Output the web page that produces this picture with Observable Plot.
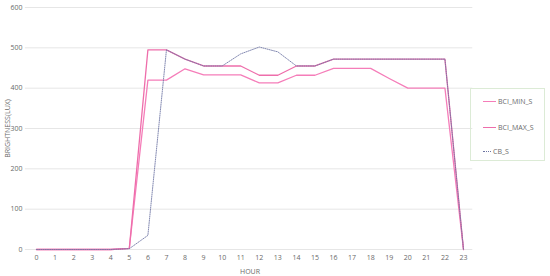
<!DOCTYPE html>
<html>
<head>
<meta charset="utf-8">
<script src="https://cdn.jsdelivr.net/npm/d3@7"></script>
<script src="https://cdn.jsdelivr.net/npm/@observablehq/plot@0.6"></script>
<style>
  body { margin: 0; background: #fff; }
  #wrap { position: relative; width: 550px; height: 276px; font-family: "Open Sans", Lato, sans-serif; }
  #legend { position: absolute; left: 470px; top: 88px; width: 75px; height: 73px; border: 1px solid #dcebd6; box-sizing: border-box; }
  .item { position: absolute; left: 12px; font-size: 7px; color: #6a6a6a; display: flex; align-items: center; white-space: nowrap; }
  .swatch { width: 13px; height: 0; margin-right: 2px; }
</style>
</head>
<body>
<div id="wrap"></div>
<script>
const hours = [0,1,2,3,4,5,6,7,8,9,10,11,12,13,14,15,16,17,18,19,20,21,22,23];
const BCI_MIN_S = [0,0,0,0,0,3,420,420,448,433,433,433,413,413,432,432,449,449,449,424,400,400,400,0];
const BCI_MAX_S = [0,0,0,0,0,3,495,495,472,455,455,455,432,432,455,455,472,472,472,472,472,472,472,0];
const CB_S      = [0,0,0,0,0,2,35,495,472,455,455,485,502,490,455,455,472,472,472,472,472,472,472,0];
const yTicks = [0,100,200,300,400,500,600];

const seriesNames = ["BCI_MIN_S", "BCI_MAX_S", "CB_S"];
const colors = { BCI_MIN_S: "#f57db9", BCI_MAX_S: "#ee6eab", CB_S: "#6d74a3" };

const rows = (name, vals) => hours.map((h, i) => ({ hour: h, value: vals[i], series: name }));
const minRows = rows("BCI_MIN_S", BCI_MIN_S);
const maxRows = rows("BCI_MAX_S", BCI_MAX_S);
const cbRows = rows("CB_S", CB_S);

const chart = Plot.plot({
  width: 550,
  height: 276,
  marginLeft: 36,
  marginRight: 87,
  marginTop: 7,
  marginBottom: 27,
  style: { fontFamily: "'Open Sans', Lato, sans-serif", fontSize: "7px", color: "#6a6a6a", background: "#fff" },
  x: { domain: [0, 23] },
  y: { domain: [0, 600] },
  marks: [
    Plot.ruleY(yTicks, { y: d => d, x1: -0.6, x2: 23.5, stroke: "#e6e6e6", strokeOpacity: 1, strokeWidth: 1 }),
    Plot.axisX({ ticks: hours, tickSize: 0, tickPadding: 6, label: "HOUR", labelAnchor: "center", labelArrow: "none", labelOffset: 24, tickFormat: d => String(d) }),
    Plot.axisY({ ticks: yTicks, tickSize: 0, tickPadding: 14, label: "BRIGHTNESS(LUX)", labelAnchor: "center", labelArrow: "none", labelOffset: 31 }),
    Plot.line(minRows, { x: "hour", y: "value", stroke: colors.BCI_MIN_S, strokeWidth: 1.3 }),
    Plot.line(maxRows, { x: "hour", y: "value", stroke: colors.BCI_MAX_S, strokeWidth: 1.3 }),
    Plot.line(cbRows, { x: "hour", y: "value", stroke: colors.CB_S, strokeWidth: 1, strokeOpacity: 0.85, strokeDasharray: "1,1.2" })
  ]
});
document.getElementById("wrap").appendChild(chart);

const legend = document.createElement("div");
legend.id = "legend";
const tops = [8, 34, 58];
seriesNames.forEach((name, i) => {
  const item = document.createElement("div");
  item.className = "item";
  item.style.top = tops[i] + "px";
  const sw = document.createElement("span");
  sw.className = "swatch";
  sw.style.borderTop = name === "CB_S" ? `1px dotted ${colors[name]}` : `1.3px solid ${colors[name]}`;
  if (name === "CB_S") sw.style.width = "8px";
  item.appendChild(sw);
  item.appendChild(document.createTextNode(name));
  legend.appendChild(item);
});
document.getElementById("wrap").appendChild(legend);
</script>
</body>
</html>
